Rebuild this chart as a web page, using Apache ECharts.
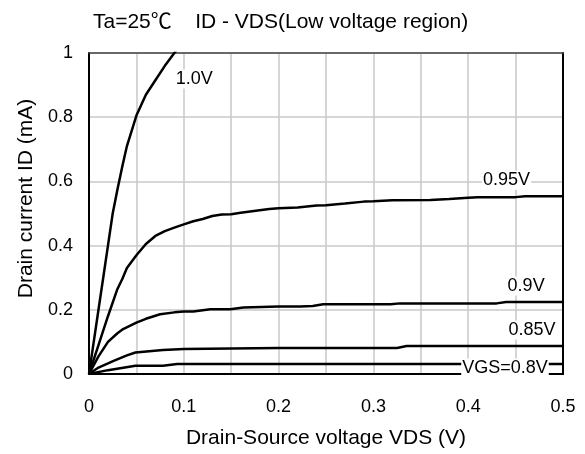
<!DOCTYPE html>
<html>
<head>
<meta charset="utf-8">
<script src="https://cdn.jsdelivr.net/npm/echarts@6/dist/echarts.min.js"></script>
<style>
html,body{margin:0;padding:0;background:#fff;}
#chart{width:585px;height:454px;}
</style>
</head>
<body>
<div id="chart"></div>
<script>
// ---- Data (VDS in V, ID in mA) ----
const title = 'Ta=25\u2103    ID - VDS(Low voltage region)';
const xName = 'Drain-Source voltage VDS (V)';
const yName = 'Drain current ID (mA)';
const xTicks = [0, 0.1, 0.2, 0.3, 0.4, 0.5];
const yTicks = [0, 0.2, 0.4, 0.6, 0.8, 1];

const curveNames = ['1.0V', '0.95V', '0.9V', '0.85V', 'VGS=0.8V'];

const vds10 = [0, 0.005, 0.01, 0.015, 0.02, 0.025, 0.03, 0.035, 0.04, 0.05, 0.06, 0.07, 0.08, 0.09, 0.1];
const id10  = [0, 0.1, 0.2, 0.3, 0.4, 0.5, 0.575, 0.645, 0.71, 0.805, 0.87, 0.915, 0.96, 1.0, 1.04];

const vds095 = [0, 0.01, 0.02, 0.03, 0.035, 0.04, 0.05, 0.06, 0.07, 0.08, 0.09, 0.1, 0.11, 0.12, 0.13, 0.14, 0.15, 0.16, 0.17, 0.18, 0.19, 0.2, 0.22, 0.24, 0.25, 0.27, 0.29, 0.3, 0.32, 0.36, 0.38, 0.4, 0.41, 0.45, 0.46, 0.5];
const id095  = [0, 0.09, 0.18, 0.265, 0.295, 0.33, 0.37, 0.405, 0.43, 0.445, 0.456, 0.466, 0.476, 0.483, 0.492, 0.497, 0.498, 0.502, 0.506, 0.51, 0.514, 0.516, 0.519, 0.525, 0.526, 0.531, 0.537, 0.538, 0.541, 0.542, 0.545, 0.549, 0.551, 0.551, 0.554, 0.554];

const vds09 = [0, 0.01, 0.02, 0.03, 0.036, 0.05, 0.06, 0.075, 0.09, 0.1, 0.11, 0.128, 0.149, 0.163, 0.2, 0.223, 0.236, 0.247, 0.318, 0.328, 0.43, 0.44, 0.5];
const id09  = [0, 0.055, 0.1, 0.127, 0.14, 0.16, 0.172, 0.186, 0.192, 0.195, 0.195, 0.202, 0.202, 0.207, 0.21, 0.21, 0.212, 0.217, 0.217, 0.22, 0.22, 0.224, 0.224];

const vds085 = [0, 0.01, 0.026, 0.04, 0.049, 0.078, 0.1, 0.2, 0.325, 0.335, 0.5];
const id085  = [0, 0.02, 0.041, 0.058, 0.067, 0.075, 0.078, 0.081, 0.081, 0.087, 0.087];

const vds08 = [0, 0.02, 0.049, 0.078, 0.093, 0.2, 0.5];
const id08  = [0, 0.012, 0.026, 0.026, 0.031, 0.031, 0.031];

// ---- Build series ----
const FONT = '"Liberation Sans", "Noto Sans CJK JP", Arial, sans-serif';
function makeSeries(name, xs, ys, labelIdx, offset) {
  return {
    type: 'line', name: name,
    data: xs.map((x, i) => [x, ys[i]]),
    showSymbol: false, symbol: 'none',
    smooth: false, clip: true, z: 3,
    lineStyle: { color: '#000', width: 2.5 },
    emphasis: { disabled: true },
    markPoint: {
      silent: true, animation: false,
      symbol: 'circle', symbolSize: 1,
      itemStyle: { color: 'rgba(0,0,0,0)' },
      label: {
        show: true, position: 'inside', offset: offset, formatter: name,
        color: '#000', fontSize: 18, fontFamily: FONT,
        backgroundColor: '#fff', padding: [1, 1, 0, 1]
      },
      data: [{ coord: [xs[labelIdx], ys[labelIdx]] }]
    }
  };
}

const series = [
  makeSeries(curveNames[0], vds10, id10, 13, [20, 26]),
  makeSeries(curveNames[1], vds095, id095, 33, [-9, -17]),
  makeSeries(curveNames[2], vds09, id09, 21, [20, -16]),
  makeSeries(curveNames[3], vds085, id085, 10, [-31, -16]),
  makeSeries(curveNames[4], vds08, id08, 6, [-58, 4])
];

const chart = echarts.init(document.getElementById('chart'), null, { renderer: 'canvas' });
const gridColor = '#c8c8c8';
chart.setOption({
  animation: false,
  backgroundColor: '#fff',
  textStyle: { fontFamily: FONT },
  title: {
    text: title, left: 88, top: 7,
    textStyle: { fontSize: 21, fontWeight: 'normal', color: '#000', fontFamily: FONT }
  },
  grid: { left: 89, right: 22, top: 53, bottom: 79, containLabel: false },
  xAxis: [{
    type: 'value', min: 0, max: 0.5, interval: 0.1,
    name: xName, nameLocation: 'middle', nameGap: 54,
    nameTextStyle: { fontSize: 21, color: '#000', fontFamily: FONT },
    axisLine: { show: true, lineStyle: { color: '#000', width: 2 } },
    axisTick: { show: false },
    axisLabel: { color: '#000', fontSize: 18, margin: 24, fontFamily: FONT,
      formatter: v => (v === 0 ? '0' : v.toFixed(1)) },
    splitLine: { show: true, lineStyle: { color: gridColor, width: 1.5 } },
    minorTick: { show: false, splitNumber: 2 },
    minorSplitLine: { show: true, lineStyle: { color: gridColor, width: 1.5 } }
  }, {
    type: 'value', position: 'top', min: 0, max: 0.5,
    axisLine: { show: true, onZero: false, lineStyle: { color: '#444', width: 1.5 } },
    axisTick: { show: false }, axisLabel: { show: false }, splitLine: { show: false }
  }],
  yAxis: [{
    type: 'value', min: 0, max: 1, interval: 0.2,
    name: yName, nameLocation: 'middle', nameGap: 51,
    nameTextStyle: { fontSize: 21, color: '#000', fontFamily: FONT, padding: [0, 0, 0, 30] },
    axisLine: { show: true, lineStyle: { color: '#000', width: 2 } },
    axisTick: { show: false },
    axisLabel: { color: '#000', fontSize: 18, margin: 16, fontFamily: FONT, padding: [6, 0, 0, 0],
      formatter: v => (v === 0 ? '0' : (v === 1 ? '1' : v.toFixed(1))) },
    splitLine: { show: true, lineStyle: { color: gridColor, width: 1.5 } }
  }, {
    type: 'value', position: 'right', min: 0, max: 1,
    axisLine: { show: true, onZero: false, lineStyle: { color: '#000', width: 2 } },
    axisTick: { show: false }, axisLabel: { show: false }, splitLine: { show: false }
  }],
  series: series
});
</script>
</body>
</html>
